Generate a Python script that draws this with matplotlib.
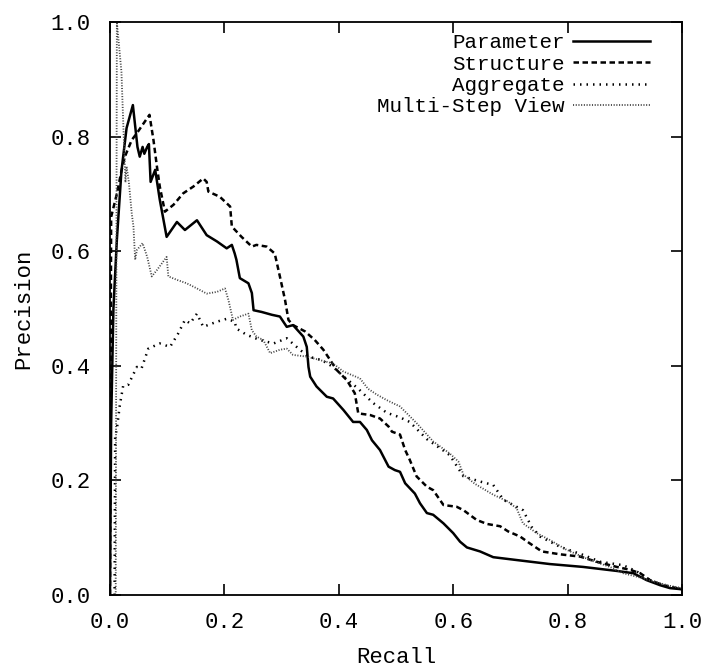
import matplotlib
matplotlib.use("Agg")
import matplotlib.pyplot as plt

plt.rcParams["font.family"] = ["Liberation Mono", "DejaVu Sans Mono"]

# precision / recall points for each view
param_recall = [0, 0.002, 0.006, 0.012, 0.02, 0.029, 0.04, 0.048, 0.052, 0.057, 0.06, 0.065, 0.068, 0.071,
                0.079, 0.087, 0.099, 0.117, 0.131, 0.152, 0.169, 0.187, 0.204, 0.213, 0.218, 0.221, 0.227,
                0.242, 0.248, 0.251, 0.265, 0.283, 0.297, 0.309, 0.320, 0.338, 0.344, 0.347, 0.35, 0.361,
                0.379, 0.39, 0.408, 0.425, 0.437, 0.449, 0.458, 0.472, 0.487, 0.498, 0.507, 0.516, 0.533,
                0.542, 0.554, 0.565, 0.583, 0.6, 0.612, 0.624, 0.647, 0.67, 0.711, 0.769, 0.827, 0.886,
                0.915, 0.938, 0.962, 0.979, 1.0]
param_prec = [0, 0.3, 0.5, 0.62, 0.74, 0.815, 0.855, 0.782, 0.765, 0.782, 0.77, 0.782, 0.787, 0.721,
              0.742, 0.69, 0.625, 0.651, 0.637, 0.654, 0.628, 0.617, 0.605, 0.611, 0.596, 0.585, 0.553,
              0.544, 0.527, 0.497, 0.494, 0.489, 0.486, 0.468, 0.471, 0.451, 0.433, 0.398, 0.381, 0.364,
              0.346, 0.343, 0.323, 0.302, 0.302, 0.288, 0.27, 0.253, 0.224, 0.218, 0.215, 0.195, 0.177,
              0.16, 0.143, 0.14, 0.125, 0.108, 0.093, 0.083, 0.076, 0.066, 0.061, 0.054, 0.049, 0.042,
              0.038, 0.026, 0.017, 0.012, 0.01]

struct_recall = [0, 0.002, 0.012, 0.02, 0.026, 0.038, 0.047, 0.069, 0.076, 0.082, 0.087, 0.096, 0.111,
                 0.128, 0.146, 0.163, 0.169, 0.172, 0.192, 0.21, 0.213, 0.23, 0.248, 0.256, 0.274, 0.288,
                 0.297, 0.306, 0.312, 0.32, 0.341, 0.358, 0.373, 0.385, 0.396, 0.414, 0.428, 0.434, 0.455,
                 0.472, 0.487, 0.493, 0.507, 0.516, 0.524, 0.536, 0.554, 0.565, 0.583, 0.606, 0.618, 0.641,
                 0.659, 0.682, 0.696, 0.717, 0.734, 0.755, 0.787, 0.822, 0.851, 0.886, 0.909, 0.927, 0.944,
                 0.967, 1.0]
struct_prec = [0, 0.66, 0.70, 0.74, 0.765, 0.794, 0.806, 0.838, 0.794, 0.748, 0.713, 0.669, 0.681,
               0.701, 0.713, 0.727, 0.721, 0.704, 0.695, 0.678, 0.643, 0.625, 0.608, 0.611, 0.608, 0.596,
               0.556, 0.515, 0.48, 0.471, 0.46, 0.445, 0.428, 0.41, 0.393, 0.375, 0.352, 0.317, 0.314,
               0.308, 0.294, 0.285, 0.28, 0.253, 0.236, 0.207, 0.189, 0.183, 0.157, 0.154, 0.148, 0.131,
               0.124, 0.12, 0.111, 0.102, 0.09, 0.076, 0.071, 0.067, 0.058, 0.049, 0.044, 0.038, 0.026,
               0.017, 0.01]

agg_recall = [0.008, 0.009, 0.012, 0.017, 0.023, 0.032, 0.047, 0.055, 0.067, 0.087, 0.105, 0.119, 0.131,
              0.14, 0.152, 0.163, 0.187, 0.204, 0.218, 0.221, 0.239, 0.262, 0.286, 0.309, 0.332, 0.347,
              0.37, 0.39, 0.41, 0.434, 0.46, 0.484, 0.507, 0.524, 0.554, 0.583, 0.594, 0.618, 0.647, 0.67,
              0.688, 0.722, 0.737, 0.752, 0.787, 0.827, 0.857, 0.897, 0.921, 0.944, 0.967, 1.0]
agg_prec = [0, 0.276, 0.29, 0.33, 0.365, 0.367, 0.398, 0.395, 0.43, 0.439, 0.433, 0.456, 0.48,
            0.474, 0.491, 0.468, 0.477, 0.482, 0.477, 0.465, 0.454, 0.445, 0.439, 0.448, 0.428, 0.416,
            0.41, 0.398, 0.38, 0.36, 0.335, 0.318, 0.31, 0.302, 0.272, 0.252, 0.244, 0.207, 0.198, 0.192,
            0.166, 0.148, 0.119, 0.102, 0.084, 0.07, 0.058, 0.052, 0.041, 0.026, 0.017, 0.01]

multi_recall = [0.01, 0.012, 0.02, 0.024, 0.027, 0.029, 0.033, 0.038, 0.041, 0.044, 0.047, 0.057, 0.065,
                0.073, 0.082, 0.099, 0.102, 0.117, 0.134, 0.152, 0.169, 0.187, 0.201, 0.207, 0.215, 0.227,
                0.242, 0.248, 0.256, 0.268, 0.28, 0.297, 0.309, 0.32, 0.344, 0.367, 0.39, 0.408, 0.437,
                0.451, 0.466, 0.484, 0.507, 0.536, 0.565, 0.594, 0.609, 0.618, 0.638, 0.67, 0.696, 0.711,
                0.722, 0.746, 0.769, 0.798, 0.839, 0.874, 0.897, 0.921, 0.956, 0.979, 1.0]
multi_prec = [0, 1.0, 0.913, 0.80, 0.72, 0.748, 0.72, 0.666, 0.643, 0.585, 0.602, 0.614, 0.59,
              0.556, 0.567, 0.59, 0.556, 0.55, 0.544, 0.535, 0.526, 0.529, 0.535, 0.515, 0.48, 0.486,
              0.491, 0.462, 0.451, 0.445, 0.422, 0.428, 0.43, 0.419, 0.416, 0.41, 0.404, 0.39, 0.378,
              0.36, 0.35, 0.34, 0.329, 0.3, 0.268, 0.247, 0.233, 0.21, 0.194, 0.175, 0.163, 0.151,
              0.125, 0.108, 0.096, 0.079, 0.061, 0.049, 0.038, 0.032, 0.022, 0.016, 0.012]

ticks = [0.0, 0.2, 0.4, 0.6, 0.8, 1.0]

fig = plt.figure(figsize=(7.04, 6.71), dpi=100)
ax = fig.add_axes([110 / 704, 1 - 595 / 671, 572 / 704, 573 / 671])

ax.plot(param_recall, param_prec, color="black", lw=1.8, label="Parameter")
ax.plot(struct_recall, struct_prec, color="black", lw=1.8, linestyle=(0, (2.2, 1.4)), label="Structure")
ax.plot(agg_recall, agg_prec, color="black", lw=1.8, linestyle=(0, (0.6, 2.0)), label="Aggregate")
ax.plot(multi_recall, multi_prec, color="#444444", lw=1.3, linestyle=(0, (0.6, 0.9)), label="Multi-Step View")

ax.set_xlim(0, 1)
ax.set_ylim(0, 1)
ax.set_xticks(ticks)
ax.set_yticks(ticks)
ax.set_xticklabels([f"{t:.1f}" for t in ticks])
ax.set_yticklabels([f"{t:.1f}" for t in ticks])
ax.tick_params(direction="in", length=8, width=1.2, top=True, right=True, labelsize=16)
ax.tick_params(axis="x", pad=12)
ax.tick_params(axis="y", pad=14)
for s in ax.spines.values():
    s.set_linewidth(1.3)

ax.set_xlabel("Recall", fontsize=16, labelpad=10)
ax.set_ylabel("Precision", fontsize=16, labelpad=12)

ax.legend(loc="upper right", bbox_to_anchor=(650 / 704, 1 - 33 / 671), bbox_transform=fig.transFigure,
          frameon=False, markerfirst=False, fontsize=15, handlelength=3.7, labelspacing=0.12,
          borderaxespad=0, borderpad=0, handletextpad=0.4)

fig.savefig("out.png", dpi=100)
